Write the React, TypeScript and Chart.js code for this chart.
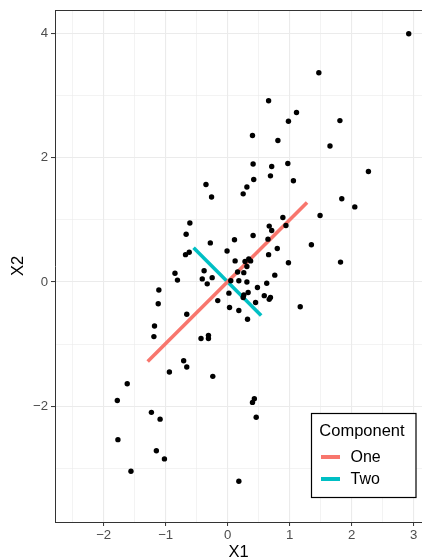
import React, { useEffect, useRef } from "react";
import { Chart, registerables } from "chart.js";

Chart.register(...registerables);

// Observations (X1, X2)
const x1Values = [
  2.92, 1.47, 0.66, 1.11, 0.98, 1.81, 0.40, 0.81, 1.65, 0.41,
  0.71, 0.97, 2.27, 0.42, 0.69, 1.06, -0.35, 0.31, 0.25, -0.26,
  1.84, 2.05, 1.49, 0.89, -0.61, 0.67, 0.94, 0.71, -0.67, 0.41,
  0.65, 0.11, -0.28, 1.35, 0.80, -0.01, -0.68, -0.62, 0.66, 0.12,
  0.28, 0.34, 0.37, 0.98, 1.82, 0.31, -0.38, -0.85, -0.81, -0.41,
  -0.25, -0.33, 0.16, 0.26, 0.18, 0.05, 0.31, 0.76, 0.63, 0.48,
  -1.11, -1.12, 0.02, 0.33, 0.26, 0.25, 0.59, 0.69, 0.67, 0.45,
  -0.16, 0.03, 0.18, 0.32, 1.17, -0.66, -1.18, -1.19, -0.43, -0.31,
  -0.31, -0.71, -0.66, -0.94, -0.24, -1.62, -1.78, 0.43, 0.40, 0.46,
  -1.23, -1.09, -1.77, -1.15, -1.02, -1.56, 0.18,
];
const x2Values = [
  4.00, 3.37, 2.92, 2.73, 2.59, 2.60, 2.36, 2.28, 2.19, 1.90,
  1.86, 1.91, 1.78, 1.65, 1.71, 1.63, 1.57, 1.53, 1.42, 1.37,
  1.34, 1.21, 1.07, 1.04, 0.95, 0.90, 0.91, 0.83, 0.77, 0.75,
  0.69, 0.68, 0.63, 0.60, 0.54, 0.50, 0.44, 0.48, 0.44, 0.34,
  0.33, 0.37, 0.34, 0.31, 0.32, 0.25, 0.18, 0.14, 0.03, 0.05,
  0.07, -0.03, 0.16, 0.15, 0.02, 0.02, 0.00, 0.11, -0.02, -0.09,
  -0.13, -0.35, -0.18, -0.17, -0.21, -0.25, -0.22, -0.25, -0.28, -0.33,
  -0.30, -0.41, -0.46, -0.60, -0.40, -0.52, -0.71, -0.88, -0.91, -0.86,
  -0.91, -1.27, -1.37, -1.45, -1.52, -1.64, -1.91, -1.88, -1.94, -2.18,
  -2.10, -2.21, -2.54, -2.72, -2.85, -3.05, -3.21,
];

// Principal component segments (start, end)
const componentLabels = ["One", "Two"];
const componentColors = ["#F8766D", "#00BFC4"];
const componentOneX = [-1.29, 1.28];
const componentOneY = [-1.28, 1.28];
const componentTwoX = [-0.55, 0.54];
const componentTwoY = [0.55, -0.54];

// Axis ranges and tick positions
const xRange = [-2.785, 3.134];
const yRange = [-3.867, 4.382];
const xGridValues = [-2.5, -2, -1.5, -1, -0.5, 0, 0.5, 1, 1.5, 2, 2.5, 3];
const xLabelValues = [-2, -1, 0, 1, 2, 3];
const yGridValues = [-3, -2, -1, 0, 1, 2, 3, 4];
const yLabelValues = [-2, 0, 2, 4];

const legendTitle = "Component";
const FONT = "'Liberation Sans', Arial, sans-serif";
const TICK_SIZE = 13.2;
const TITLE_SIZE = 16.5;

const fmt = (v: number) => (v < 0 ? "\u2212" + Math.abs(v) : String(v));

const panelTop = {
  id: "panelTop",
  afterDraw(chart: any) {
    const { ctx, chartArea } = chart;
    ctx.save();
    ctx.strokeStyle = "#333333";
    ctx.lineWidth = 1;
    ctx.beginPath();
    ctx.moveTo(chartArea.left, chartArea.top + 0.5);
    ctx.lineTo(chartArea.right, chartArea.top + 0.5);
    ctx.stroke();
    ctx.restore();
  },
};

const insetLegend = {
  id: "insetLegend",
  afterDraw(chart: any) {
    const { ctx } = chart;
    const x = 311.5;
    const y = 413.5;
    const w = 104.5;
    const h = 84;
    ctx.save();
    ctx.fillStyle = "#FFFFFF";
    ctx.fillRect(x, y, w, h);
    ctx.strokeStyle = "#000000";
    ctx.lineWidth = 1.2;
    ctx.strokeRect(x, y, w, h);
    ctx.fillStyle = "#000000";
    ctx.font = `${TITLE_SIZE}px ${FONT}`;
    ctx.textBaseline = "alphabetic";
    ctx.textAlign = "left";
    ctx.fillText(legendTitle, x + 7.8, y + 22.5);
    const rows = [457, 479];
    componentLabels.forEach((label, i) => {
      const ds = chart.data.datasets[i + 1];
      ctx.strokeStyle = ds.borderColor;
      ctx.lineWidth = 4;
      ctx.beginPath();
      ctx.moveTo(321, rows[i]);
      ctx.lineTo(340, rows[i]);
      ctx.stroke();
      ctx.fillStyle = "#000000";
      ctx.textBaseline = "middle";
      ctx.font = `16px ${FONT}`;
      ctx.fillText(label, 350.5, rows[i] + 0.5);
    });
    ctx.restore();
  },
};

export default function App() {
  const canvasRef = useRef<HTMLCanvasElement | null>(null);

  useEffect(() => {
    if (!canvasRef.current) return;
    const points = x1Values.map((x, i) => ({ x, y: x2Values[i] }));
    const seg = (xs: number[], ys: number[]) => xs.map((x, i) => ({ x, y: ys[i] }));

    const chart = new Chart(canvasRef.current, {
      type: "scatter",
      data: {
        datasets: [
          {
            label: "points",
            data: points,
            backgroundColor: "#000000",
            borderColor: "#000000",
            pointRadius: 2.7,
            pointBorderWidth: 0,
          },
          {
            label: componentLabels[0],
            data: seg(componentOneX, componentOneY),
            showLine: true,
            borderColor: componentColors[0],
            borderWidth: 3.6,
            pointRadius: 0,
            borderCapStyle: "butt",
          },
          {
            label: componentLabels[1],
            data: seg(componentTwoX, componentTwoY),
            showLine: true,
            borderColor: componentColors[1],
            borderWidth: 3.6,
            pointRadius: 0,
            borderCapStyle: "butt",
          },
        ],
      },
      options: {
        responsive: false,
        animation: false,
        devicePixelRatio: 1,
        layout: { autoPadding: false, padding: { top: 10, right: 0, bottom: 0, left: 0 } },
        plugins: { legend: { display: false }, tooltip: { enabled: false } },
        scales: {
          x: {
            type: "linear",
            min: xRange[0],
            max: xRange[1],
            afterBuildTicks: (s: any) => {
              s.ticks = xGridValues.map((v) => ({ value: v }));
            },
            afterFit: (s: any) => {
              s.height = 38;
              s.paddingLeft = 0;
              s.paddingRight = 0;
            },
            ticks: {
              autoSkip: false,
              maxRotation: 0,
              padding: 1,
              color: "#4D4D4D",
              font: { family: FONT, size: TICK_SIZE },
              callback: (v: any) => (xLabelValues.includes(Number(v)) ? fmt(Number(v)) : ""),
            },
            grid: {
              color: "#EBEBEB",
              lineWidth: (c: any) => (xLabelValues.includes(c.tick?.value) ? 1.1 : 0.6),
              tickColor: (c: any) => (xLabelValues.includes(c.tick?.value) ? "#333333" : "rgba(0,0,0,0)"),
              tickLength: 4,
              tickWidth: 1,
            },
            border: { display: true, color: "#333333", width: 1 },
            title: {
              display: true,
              text: "X1",
              color: "#000000",
              font: { family: FONT, size: TITLE_SIZE },
              padding: { top: 0, bottom: -2 },
            },
          },
          y: {
            type: "linear",
            min: yRange[0],
            max: yRange[1],
            afterBuildTicks: (s: any) => {
              s.ticks = yGridValues.map((v) => ({ value: v }));
            },
            afterFit: (s: any) => {
              s.width = 55;
              s.paddingTop = 0;
              s.paddingBottom = 0;
            },
            ticks: {
              autoSkip: false,
              padding: 3,
              color: "#4D4D4D",
              font: { family: FONT, size: TICK_SIZE },
              callback: (v: any) => (yLabelValues.includes(Number(v)) ? fmt(Number(v)) : ""),
            },
            grid: {
              color: "#EBEBEB",
              lineWidth: (c: any) => (yLabelValues.includes(c.tick?.value) ? 1.1 : 0.6),
              tickColor: (c: any) => (yLabelValues.includes(c.tick?.value) ? "#333333" : "rgba(0,0,0,0)"),
              tickLength: 4,
              tickWidth: 1,
            },
            border: { display: true, color: "#333333", width: 1 },
            title: {
              display: true,
              text: "X2",
              color: "#000000",
              font: { family: FONT, size: TITLE_SIZE },
              padding: { top: 8.5, bottom: 0 },
            },
          },
        },
      },
      plugins: [panelTop, insetLegend],
    });
    return () => chart.destroy();
  }, []);

  return (
    <div style={{ position: "absolute", left: 0, top: 0, width: 422, height: 560, background: "#FFFFFF" }}>
      <canvas ref={canvasRef} width={422} height={560} style={{ display: "block" }} />
    </div>
  );
}
